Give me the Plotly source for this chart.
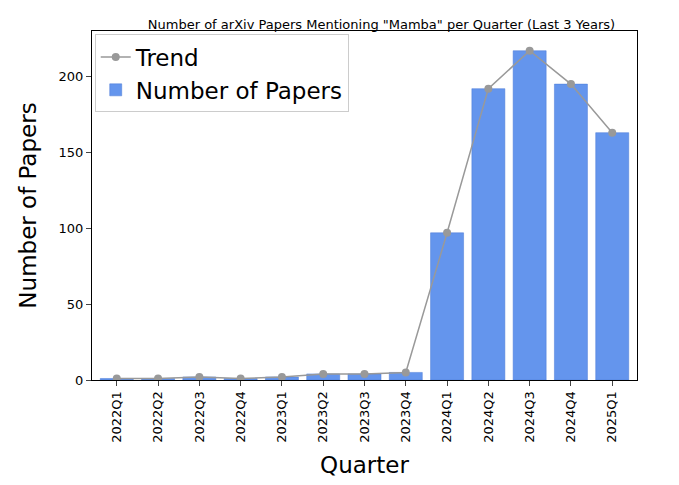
import plotly.graph_objects as go

quarters = ["2022Q1", "2022Q2", "2022Q3", "2022Q4", "2023Q1", "2023Q2", "2023Q3",
            "2023Q4", "2024Q1", "2024Q2", "2024Q3", "2024Q4", "2025Q1"]
papers = [1, 1, 2, 1, 2, 4, 4, 5, 97, 192, 217, 195, 163]

fig = go.Figure()
fig.add_trace(go.Bar(x=quarters, y=papers, name="Number of Papers",
                     marker=dict(color="#6495ED", line=dict(color="#4a7bd6", width=0.5)),
                     width=0.8))
fig.add_trace(go.Scatter(x=quarters, y=papers, name="Trend", mode="lines+markers",
                         line=dict(color="#999999", width=1.5),
                         marker=dict(color="#999999", size=8)))

fig.update_layout(
    width=679, height=485,
    plot_bgcolor="white", paper_bgcolor="white",
    font=dict(family="DejaVu Sans", color="black"),
    title=dict(text='Number of arXiv Papers Mentioning "Mamba" per Quarter (Last 3 Years)',
               x=0.55, xanchor="center", y=0.975, font=dict(size=13)),
    margin=dict(l=84, r=50, t=23, b=113),
    showlegend=True,
    legend=dict(x=0.005, y=0.99, xanchor="left", yanchor="top", font=dict(size=23),
                bordercolor="#cccccc", borderwidth=1, bgcolor="rgba(255,255,255,0.8)",
                traceorder="reversed"),
)
fig.update_xaxes(title=dict(text="Quarter", font=dict(size=23)), tickangle=-90,
                 showline=True, linecolor="black", mirror=True, ticks="outside",
                 tickfont=dict(size=13), range=[-0.6, 12.6])
fig.update_yaxes(title=dict(text="Number of Papers", font=dict(size=23)),
                 showline=True, linecolor="black", mirror=True, ticks="outside",
                 showgrid=False, zeroline=False, range=[0, 230],
                 tickvals=[0, 50, 100, 150, 200], tickfont=dict(size=13))

fig.write_html("out.html")
